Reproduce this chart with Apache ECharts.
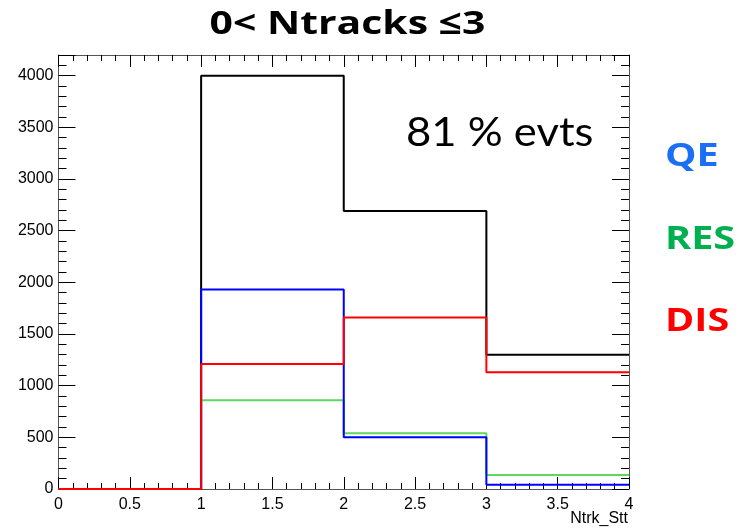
<!DOCTYPE html>
<html>
<head>
<meta charset="utf-8">
<script src="https://cdn.jsdelivr.net/npm/echarts@6/dist/echarts.min.js"></script>
<style>
  html, body { margin: 0; padding: 0; background: #fff; }
  #chart { width: 740px; height: 530px; }
</style>
</head>
<body>
<div id="chart"></div>
<script>
// Bin edges of Ntrk_Stt and per-bin event counts
const binEdges = [0, 1, 2, 3, 4];
const totalCounts = [0, 4000, 2690, 1300];
const qeCounts    = [0, 1930, 500, 40];
const resCounts   = [0, 860, 540, 135];
const disCounts   = [0, 1210, 1660, 1130];

const titleText = '0< Ntracks \u22643';
const fractionText = '81 % evts';
const legendItems = ['QE', 'RES', 'DIS'];
const xAxisTitle = 'Ntrk_Stt';

// Step-histogram outline points: each bin value starts at its lower edge,
// the last value is repeated at the upper edge of the final bin.
function histPoints(counts) {
  const pts = counts.map((v, i) => [binEdges[i], v]);
  pts.push([binEdges[binEdges.length - 1], counts[counts.length - 1]]);
  return pts;
}

const axisColor = '#555';
const labelFont = { fontFamily: 'Liberation Sans, Arial, sans-serif', fontSize: 16, color: '#000' };

function xAxisCfg(pos, showLabels) {
  return {
    type: 'value', position: pos, min: 0, max: 4, interval: 0.5,
    axisLine: { show: true, onZero: false, lineStyle: { color: axisColor, width: 1 } },
    axisTick: { show: true, inside: true, length: 12, lineStyle: { color: '#000', width: 1 } },
    minorTick: { show: true, splitNumber: 5, length: 6, lineStyle: { color: '#000', width: 1 } },
    splitLine: { show: false },
    axisLabel: Object.assign({ show: showLabels, margin: 8 }, labelFont)
  };
}
function yAxisCfg(pos, showLabels) {
  return {
    type: 'value', position: pos, min: 0, max: 4200, interval: 500,
    axisLine: { show: true, onZero: false, lineStyle: { color: axisColor, width: 1 } },
    axisTick: { show: true, inside: true, length: 17, lineStyle: { color: '#000', width: 1 } },
    minorTick: { show: true, splitNumber: 5, length: 8, lineStyle: { color: '#000', width: 1 } },
    splitLine: { show: false },
    axisLabel: Object.assign({
      show: showLabels, margin: 5,
      formatter: v => (v % 500 === 0 ? String(v) : '')
    }, labelFont)
  };
}

function histSeries(name, counts, color, z) {
  return {
    name, type: 'line', step: 'end', data: histPoints(counts),
    xAxisIndex: 0, yAxisIndex: 0, symbol: 'none', z,
    lineStyle: { color, width: 2 }, clip: false, animation: false
  };
}

const boldFont = 'bold 33px "Open Sans", Lato, sans-serif';

// Wide slide-style text labels (horizontally stretched glyphs)
function wideText(text, x, y, font, fill, align, sx) {
  return {
    type: 'text', x, y, scaleX: sx, scaleY: 1,
    style: { text, fill, font, textAlign: align, textVerticalAlign: 'middle' }
  };
}

const chart = echarts.init(document.getElementById('chart'), null, { renderer: 'canvas' });
chart.setOption({
  animation: false,
  backgroundColor: '#fff',
  grid: { left: 58.5, right: 111, top: 55, bottom: 41 },
  xAxis: [xAxisCfg('bottom', true), xAxisCfg('top', false)],
  yAxis: [yAxisCfg('left', true), yAxisCfg('right', false)],
  series: [
    histSeries('Total', totalCounts, '#000000', 2),
    histSeries('RES', resCounts, '#5fd85f', 3),
    histSeries('QE', qeCounts, '#0000ff', 4),
    histSeries('DIS', disCounts, '#ff0000', 5)
  ],
  graphic: [
    wideText(titleText, 347.5, 25, boldFont, '#000', 'center', 1.24),
    wideText(fractionText, 406, 133, '40px Lato, "Open Sans", sans-serif', '#000', 'left', 1.09),
    wideText(legendItems[0], 665, 157, boldFont, '#1a6ff5', 'left', 1.2),
    wideText(legendItems[1], 665, 240, boldFont, '#00b050', 'left', 1.2),
    wideText(legendItems[2], 665, 322, boldFont, '#ff0000', 'left', 1.2),
    { type: 'text', x: 628, y: 519, style: { text: xAxisTitle, fill: '#000', font: '16px "Liberation Sans", Arial, sans-serif', textAlign: 'right', textVerticalAlign: 'middle' } }
  ]
});
</script>
</body>
</html>
